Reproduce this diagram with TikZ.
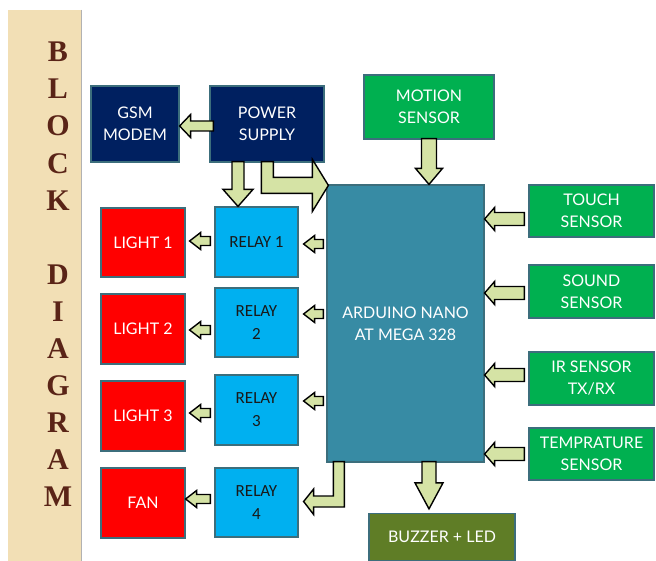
\documentclass[tikz,border=0pt]{standalone}
\usepackage{fontspec}
\setmainfont{Lato}
\newfontfamily\relayfont{Carlito}
\newfontfamily\titlefont{Liberation Serif}
\usetikzlibrary{calc}
\definecolor{tanbg}{HTML}{F2DFB5}
\definecolor{titlebrown}{HTML}{5A2417}
\definecolor{navyfill}{HTML}{002060}
\definecolor{ardfill}{HTML}{378BA4}
\definecolor{sensgreen}{HTML}{00B050}
\definecolor{relayblue}{HTML}{00B0F0}
\definecolor{olivefill}{HTML}{5F7D26}
\definecolor{boxedge}{HTML}{3C6E7C}
\definecolor{arrowgreen}{HTML}{D5E3A5}
\newcommand\blkarrow[5]{%
  \path let \p1=#1, \p2=#2, \n1={atan2(\y2-\y1,\x2-\x1)}, \n2={veclen(\x2-\x1,\y2-\y1)} in
    \pgfextra{\xdef\bkax{\x1}\xdef\bkay{\y1}\xdef\bkang{\n1}\xdef\bklen{\n2}};
  \begin{scope}[shift={(\bkax,\bkay)}, rotate=\bkang]
    \draw[blk] (0,-#3) -- ({\bklen-#5},-#3) -- ({\bklen-#5},-#4) -- (\bklen,0) -- ({\bklen-#5},#4) -- ({\bklen-#5},#3) -- (0,#3) -- cycle;
  \end{scope}}
\begin{document}
\begin{tikzpicture}[x=1pt,y=-1pt,
  blk/.style={draw=black, fill=arrowgreen, line width=1.4pt, line join=miter},
  basebox/.style={rectangle, draw=boxedge, line width=1.2pt, inner sep=0pt, align=center,
    font=\fontsize{16}{22}\selectfont},
  navybox/.style={basebox, fill=navyfill, text=white},
  greenbox/.style={basebox, fill=sensgreen, text=white},
  ardbox/.style={basebox, fill=ardfill, text=white},
  olivebox/.style={basebox, fill=olivefill, text=white},
  redbox/.style={basebox, fill=red, text=white, minimum width=84pt, minimum height=70pt},
  relaybox/.style={basebox, fill=relayblue, text=black!90, minimum width=83pt, minimum height=70pt,
    font=\relayfont\fontsize{17}{23}\selectfont},
  sensorbox/.style={greenbox, minimum width=125pt, minimum height=53pt},
  titleletter/.style={text=titlebrown, font=\titlefont\bfseries\fontsize{30}{30}\selectfont, inner sep=0pt}
]
\useasboundingbox (0,0) rectangle (656,561);
\fill[white] (0,0) rectangle (656,561);
% title strip
\fill[tanbg] (8,10) rectangle (82,561);
\draw[black!30, line width=1.5pt] (81.5,10) -- (81.5,561);
\foreach \ch/\i in {B/0,L/1,O/2,C/3,K/4,D/6,I/7,A/8,G/9,R/10,A/11,M/12}{
  \node[titleletter] (t\i) at (58,{52+37.08*\i}) {\ch};
}
% boxes
\node[navybox, minimum width=88pt, minimum height=76pt] (gsm) at (135,124) {GSM\\MODEM};
\node[navybox, minimum width=114pt, minimum height=76pt] (power) at (267,124) {POWER\\SUPPLY};
\node[greenbox, minimum width=130pt, minimum height=64pt] (motion) at (429,107) {MOTION\\SENSOR};
\node[ardbox, minimum width=157pt, minimum height=277pt] (ard) at (405.5,323.5) {ARDUINO NANO\\AT MEGA 328};
\node[sensorbox, minimum height=52pt] (touch) at (591.5,211) {TOUCH\\SENSOR};
\node[sensorbox] (sound) at (591.5,291.5) {SOUND\\SENSOR};
\node[sensorbox] (ir) at (591.5,378.5) {IR SENSOR\\TX/RX};
\node[sensorbox, minimum height=52pt] (temp) at (591.5,454) {TEMPRATURE\\SENSOR};
\node[olivebox, minimum width=146pt, minimum height=47pt] (buzzer) at (442,537) {BUZZER + LED};
\node[relaybox] (relay1) at (256.5,242) {RELAY 1};
\node[relaybox, minimum height=69pt] (relay2) at (256.5,322.5) {RELAY\\2};
\node[relaybox] (relay3) at (256.5,410) {RELAY\\3};
\node[relaybox, minimum height=69pt] (relay4) at (256.5,502.5) {RELAY\\4};
\node[redbox, minimum height=69pt] (light1) at (143,242.5) {LIGHT 1};
\node[redbox] (light2) at (143,329) {LIGHT 2};
\node[redbox] (light3) at (143,416) {LIGHT 3};
\node[redbox] (fan) at (143,503) {FAN};
% straight block arrows
\blkarrow{($(power.west)+(4,2)$)}{($(gsm.east)+(0,2)$)}{5}{11.5}{11}
\blkarrow{($(power.south)+(-29,-1)$)}{($(relay1.north)+(-18.5,0)$)}{6}{15}{17}
\blkarrow{($(motion.south)+(0,-1)$)}{(motion.south |- ard.north)}{7.5}{13.5}{16}
\blkarrow{($(buzzer.north |- ard.south)+(-13,-1)$)}{($(buzzer.north)+(-13,-4)$)}{7}{14}{26}
\blkarrow{($(touch.west)+(-4,8)$)}{($(touch.west -| ard.east)+(0,8)$)}{6.5}{11.5}{10}
\blkarrow{($(sound.west)+(-4,1.5)$)}{($(sound.west -| ard.east)+(0,1.5)$)}{6.5}{11.5}{10}
\blkarrow{($(ir.west)+(-4,-3.5)$)}{($(ir.west -| ard.east)+(0,-3.5)$)}{6.5}{11.5}{10}
\blkarrow{($(temp.west)+(-4,0)$)}{($(temp.west -| ard.east)+(0,0)$)}{6.5}{11.5}{10}
\blkarrow{($(relay1.east -| ard.west)+(-3,2)$)}{($(relay1.east)+(5,2)$)}{4.5}{8.5}{11}
\blkarrow{($(relay2.east -| ard.west)+(-3,-8.5)$)}{($(relay2.east)+(5,-8.5)$)}{4.5}{8.5}{11}
\blkarrow{($(relay3.east -| ard.west)+(-3,-9)$)}{($(relay3.east)+(5,-9)$)}{4.5}{8.5}{11}
\blkarrow{($(light1.east -| relay1.west)+(-4,-1.5)$)}{($(light1.east)+(4,-1.5)$)}{4.5}{8.5}{11}
\blkarrow{($(light2.east -| relay2.west)+(-4,1)$)}{($(light2.east)+(4,1)$)}{4.5}{8.5}{11}
\blkarrow{($(light3.east -| relay3.west)+(-4,-3)$)}{($(light3.east)+(4,-3)$)}{4.5}{8.5}{11}
\blkarrow{($(fan.east -| relay4.west)+(-4,-4)$)}{($(fan.east)+(0,-4)$)}{4.5}{8.5}{11}
% elbow arrow: power supply -> arduino
\draw[blk] let \p1=(power.south west), \p2=(ard.north west) in
  (\x1+64pt,\y1+1pt) -- (\x1+64pt,\y2+7pt) -- (\x2-14pt,\y2+7pt) -- (\x2-14pt,\y2+25pt)
  -- (\x2+2pt,\y2-1pt) -- (\x2-14pt,\y2-27pt) -- (\x2-14pt,\y2-9pt) -- (\x1+52pt,\y2-9pt)
  -- (\x1+52pt,\y1+1pt) -- cycle;
% elbow arrow: arduino -> relay 4
\draw[blk] let \p1=(ard.south west), \p2=(relay4.east) in
  (\x1+7pt,\y1+1pt) -- (\x1+18pt,\y1+1pt) -- (\x1+18pt,\y2-4.5pt) -- (\x2+15pt,\y2-4.5pt)
  -- (\x2+15pt,\y2-12pt) -- (\x2+5pt,\y2+1pt) -- (\x2+15pt,\y2+13.5pt) -- (\x2+15pt,\y2+6.5pt)
  -- (\x1+7pt,\y2+6.5pt) -- cycle;
\end{tikzpicture}
\end{document}
